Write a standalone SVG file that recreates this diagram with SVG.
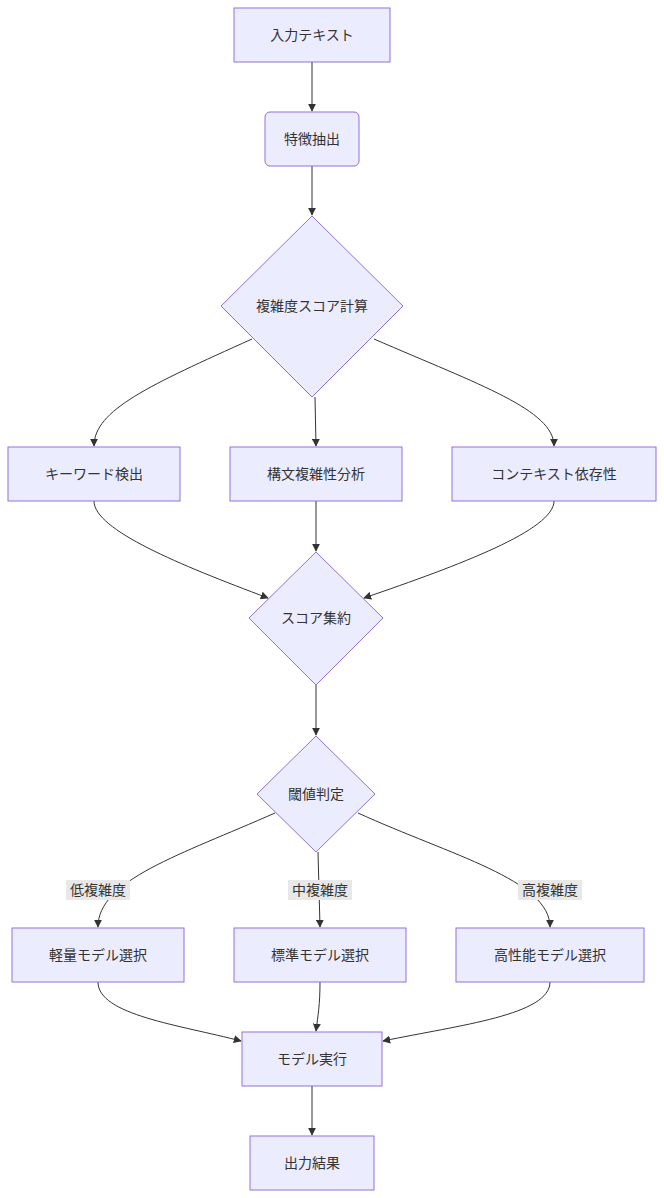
<svg xmlns="http://www.w3.org/2000/svg" width="664" height="1198" viewBox="0 0 664 1198">
<defs>
<marker id="ah" viewBox="0 0 10 10" refX="9" refY="5" markerWidth="8" markerHeight="8" orient="auto"><path d="M0,0L10,5L0,10z" fill="#333"/></marker>
<style>
.n{fill:#ECECFF;stroke:#9370DB;stroke-width:1}
.t{font-family:"Liberation Sans","Noto Sans CJK JP",sans-serif;font-size:14px;fill:#333;text-anchor:middle;dominant-baseline:central}
.e{fill:none;stroke:#333;stroke-width:1;marker-end:url(#ah)}
.lb{fill:#e8e8e8}
</style>
</defs>
<rect width="664" height="1198" fill="#fff"/>
<g id="edges">
<path class="e" d="M312,62V111"/>
<path class="e" d="M312,166V215"/>
<path class="e" d="M252,339C150,385 94,410 94,446"/>
<path class="e" d="M315,397L316,446"/>
<path class="e" d="M374,339C480,385 554,410 554,446"/>
<path class="e" d="M94,501C94,530 180,565 268,598"/>
<path class="e" d="M316,501V551"/>
<path class="e" d="M554,501C554,530 460,565 364,598"/>
<path class="e" d="M316,685V735"/>
<path class="e" d="M275,813C180,855 98,880 98,927"/>
<path class="e" d="M318,852L320,927"/>
<path class="e" d="M358,813C450,855 550,880 550,927"/>
<path class="e" d="M98,982C98,1015 180,1025 241,1041"/>
<path class="e" d="M320,982C320,1005 318,1015 316,1031"/>
<path class="e" d="M550,982C550,1015 460,1025 383,1041"/>
<path class="e" d="M312,1086V1135"/>
</g>
<g id="elabels">
<rect class="lb" x="66" y="880" width="64" height="20"/><text class="t" x="98" y="890">低複雑度</text>
<rect class="lb" x="288" y="880" width="64" height="20"/><text class="t" x="320" y="890">中複雑度</text>
<rect class="lb" x="518" y="880" width="64" height="20"/><text class="t" x="550" y="890">高複雑度</text>
</g>
<g id="n1"><rect class="n" x="234" y="8" width="156" height="54"/><text class="t" x="312" y="35">入力テキスト</text></g>
<g id="n2"><rect class="n" x="265" y="112" width="94" height="54" rx="5"/><text class="t" x="312" y="139">特徴抽出</text></g>
<g id="n3"><polygon class="n" points="312,216 403,306 312,397 221,306"/><text class="t" x="312" y="306">複雑度スコア計算</text></g>
<g id="n4"><rect class="n" x="8" y="447" width="172" height="54"/><text class="t" x="94" y="474">キーワード検出</text></g>
<g id="n5"><rect class="n" x="230" y="447" width="172" height="54"/><text class="t" x="316" y="474">構文複雑性分析</text></g>
<g id="n6"><rect class="n" x="452" y="447" width="204" height="54"/><text class="t" x="554" y="474">コンテキスト依存性</text></g>
<g id="n7"><polygon class="n" points="316,552 383,618 316,685 249,618"/><text class="t" x="316" y="618">スコア集約</text></g>
<g id="n8"><polygon class="n" points="316,736 375,794 316,852 257,794"/><text class="t" x="316" y="794">閾値判定</text></g>
<g id="n9"><rect class="n" x="12" y="928" width="172" height="54"/><text class="t" x="98" y="955">軽量モデル選択</text></g>
<g id="n10"><rect class="n" x="234" y="928" width="172" height="54"/><text class="t" x="320" y="955">標準モデル選択</text></g>
<g id="n11"><rect class="n" x="456" y="928" width="188" height="54"/><text class="t" x="550" y="955">高性能モデル選択</text></g>
<g id="n12"><rect class="n" x="242" y="1032" width="140" height="54"/><text class="t" x="312" y="1059">モデル実行</text></g>
<g id="n13"><rect class="n" x="250" y="1136" width="124" height="54"/><text class="t" x="312" y="1163">出力結果</text></g>
</svg>
